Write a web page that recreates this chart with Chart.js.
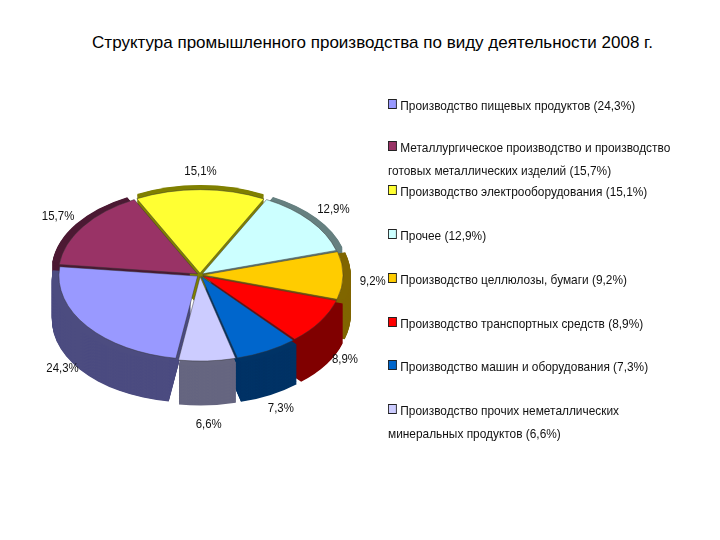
<!DOCTYPE html>
<html><head><meta charset="utf-8">
<script src="https://cdn.jsdelivr.net/npm/chart.js@4"></script>
<style>
body{margin:0;width:720px;height:540px;background:#fff;position:relative;overflow:hidden;font-family:"Liberation Sans",Arial,sans-serif}
#title{position:absolute;top:33px;left:0;width:745px;text-align:center;font-size:17px;color:#000}
#wrap{position:absolute;left:5px;top:90px;width:390px;height:370px}
#legend{position:absolute;left:388px;top:94px;width:360px;font-size:13.5px;color:#111;transform:scaleX(0.88);transform-origin:0 0}
.it{position:absolute;left:0;line-height:23px;white-space:nowrap}
.sq{display:inline-block;width:8px;height:8px;border:1px solid #222;margin-right:4px;vertical-align:1px}
</style></head><body>
<div id="title">Структура промышленного производства по виду деятельности 2008 г.</div>
<div id="wrap"><canvas id="c"></canvas></div>
<div id="legend"></div>
<script>
const categories=["Производство пищевых продуктов (24,3%)","Металлургическое производство и производство|готовых металлических изделий (15,7%)","Производство электрооборудования (15,1%)","Прочее (12,9%)","Производство целлюлозы, бумаги (9,2%)","Производство транспортных средств (8,9%)","Производство машин и оборудования (7,3%)","Производство прочих неметаллических|минеральных продуктов (6,6%)"];
const values=[24.3,15.7,15.1,12.9,9.2,8.9,7.3,6.6];
const valueLabels=["24,3%","15,7%","15,1%","12,9%","9,2%","8,9%","7,3%","6,6%"];
const colors=["#9999FF","#993366","#FFFF33","#CCFFFF","#FFCC00","#FF0000","#0066CC","#CCCCFF"];
const sideColors=["#4C4C80","#4C1933","#808000","#668080","#806600","#800000","#003366","#666680"];
const legendTops=[0,42,86,130,174,218,261,305];

const lg=document.getElementById('legend');
categories.forEach((c,i)=>{const d=document.createElement('div');d.className='it';d.style.top=legendTops[i]+'px';
 const p=c.split('|');d.innerHTML='<span class="sq" style="background:'+colors[i]+'"></span>'+p[0]+(p[1]?'<br>'+p[1]:'');lg.appendChild(d);});

const SY=0.6, DEPTH=40, OFF=12;
const pie3d={id:'pie3d',
 beforeDatasetsDraw(ch){const ctx=ch.ctx;const arcs=ch.getDatasetMeta(0).data;if(!arcs.length)return;
  const cx=arcs[0].x,cy=arcs[0].y;ctx.save();ctx.translate(cx,cy);ctx.scale(1,SY);ctx.translate(-cx,-cy);
  for(let d=DEPTH/SY;d>0;d-=1){arcs.forEach((a,i)=>{const m=(a.startAngle+a.endAngle)/2;
    const ox=Math.cos(m)*OFF, oy=Math.sin(m)*OFF;ctx.beginPath();ctx.moveTo(a.x+ox,a.y+oy+d);
    ctx.arc(a.x+ox,a.y+oy+d,a.outerRadius,a.startAngle,a.endAngle);ctx.closePath();ctx.fillStyle=sideColors[i];ctx.fill();});}
 },
 afterDatasetsDraw(ch){const ctx=ch.ctx;ctx.restore();
  const arcs=ch.getDatasetMeta(0).data;ctx.save();ctx.font='13px "Liberation Sans",Arial';ctx.fillStyle='#111';ctx.textAlign='center';ctx.textBaseline='middle';
  arcs.forEach((a,i)=>{const m=(a.startAngle+a.endAngle)/2;const r=a.outerRadius+OFF+22;
   let x=a.x+Math.cos(m)*r, y=a.y+Math.sin(m)*r*SY; if(Math.sin(m)>0) y+=DEPTH*Math.sin(m)+6;
   ctx.save();ctx.translate(x,y);ctx.scale(0.88,1);ctx.fillText(valueLabels[i],0,0);ctx.restore();});ctx.restore();}
};
new Chart(document.getElementById('c'),{type:'pie',
 data:{labels:categories,datasets:[{data:values,backgroundColor:colors,borderColor:'#333',borderWidth:0.6,offset:OFF}]},
 options:{responsive:true,maintainAspectRatio:false,animation:false,rotation:-171,
  layout:{padding:{left:48,right:48,top:40,bottom:40}},
  plugins:{legend:{display:false},tooltip:{enabled:false}}},
 plugins:[pie3d]});
</script></body></html>
